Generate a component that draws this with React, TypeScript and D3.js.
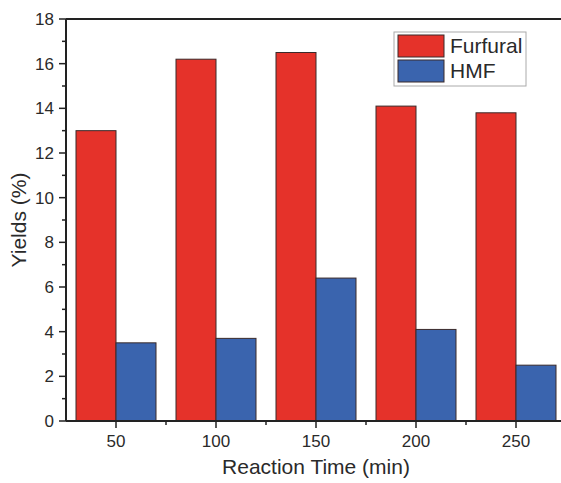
import React from "react";
import * as d3 from "d3";

const categories = [50, 100, 150, 200, 250];
const furfural = [13.0, 16.2, 16.5, 14.1, 13.8];
const hmf = [3.5, 3.7, 6.4, 4.1, 2.5];
const seriesNames = ["Furfural", "HMF"];
const seriesColors = ["#e5322a", "#3a64ae"];
const yTicks = [0, 2, 4, 6, 8, 10, 12, 14, 16, 18];

export default function App() {
  const W = 561, H = 483;
  const left = 66, top = 19, bottom = 421;
  const x = d3.scaleLinear().domain([25, 275]).range([left, left + 500]);
  const y = d3.scaleLinear().domain([0, 18]).range([bottom, top]);
  const barW = x(45) - x(25);
  const font = "'Liberation Sans', Arial, sans-serif";
  const textColor = "#2a2a2a";
  const minorY = d3.range(1, 18, 2);
  const minorX = [75, 125, 175, 225];
  const series = [furfural, hmf];
  return (
    <svg width={W} height={H} style={{ position: "absolute", left: 0, top: 0 }}>
      <rect width={W} height={H} fill="#fff" />
      {categories.map((c, i) =>
        series.map((s, j) => (
          <rect
            key={`${i}-${j}`}
            x={j === 0 ? x(c) - barW : x(c)}
            y={y(s[i])}
            width={barW}
            height={y(0) - y(s[i])}
            fill={seriesColors[j]}
            stroke="#3a2a2a"
            strokeWidth={1}
          />
        ))
      )}
      {/* axes */}
      <line x1={left} x2={W} y1={top} y2={top} stroke="#222" strokeWidth={2} />
      <line x1={left} x2={left} y1={top} y2={bottom} stroke="#222" strokeWidth={2} />
      <line x1={left} x2={W} y1={bottom} y2={bottom} stroke="#222" strokeWidth={2} />
      {yTicks.map((t) => (
        <g key={t}>
          <line x1={left - 7} x2={left} y1={y(t)} y2={y(t)} stroke="#222" strokeWidth={1.5} />
          <text x={left - 12} y={y(t)} dy="0.35em" textAnchor="end" fontFamily={font} fontSize={17} fill={textColor}>
            {t}
          </text>
        </g>
      ))}
      {minorY.map((t) => (
        <line key={t} x1={left - 4} x2={left} y1={y(t)} y2={y(t)} stroke="#222" strokeWidth={1.5} />
      ))}
      {categories.map((c) => (
        <g key={c}>
          <line x1={x(c)} x2={x(c)} y1={bottom} y2={bottom + 7} stroke="#222" strokeWidth={1.5} />
          <text x={x(c)} y={bottom + 26} textAnchor="middle" fontFamily={font} fontSize={17} fill={textColor}>
            {c}
          </text>
        </g>
      ))}
      {minorX.map((t) => (
        <line key={t} x1={x(t)} x2={x(t)} y1={bottom} y2={bottom + 4} stroke="#222" strokeWidth={1.5} />
      ))}
      <text
        x={316}
        y={474}
        textAnchor="middle"
        fontFamily={font}
        fontSize={21}
        fill={textColor}
      >
        Reaction Time (min)
      </text>
      <text
        transform={`translate(26, 220) rotate(-90)`}
        textAnchor="middle"
        fontFamily={font}
        fontSize={21}
        fill={textColor}
      >
        Yields (%)
      </text>
      {/* legend */}
      <rect x={394} y={32} width={132} height={54} fill="#fff" stroke="#aaa" strokeWidth={1} />
      {seriesNames.map((n, j) => (
        <g key={n}>
          <rect x={398} y={35 + j * 25} width={46} height={22} fill={seriesColors[j]} stroke="#3a2a2a" strokeWidth={1} />
          <text x={450} y={46 + j * 25} dy="0.35em" fontFamily={font} fontSize={21} fill={textColor}>
            {n}
          </text>
        </g>
      ))}
    </svg>
  );
}
